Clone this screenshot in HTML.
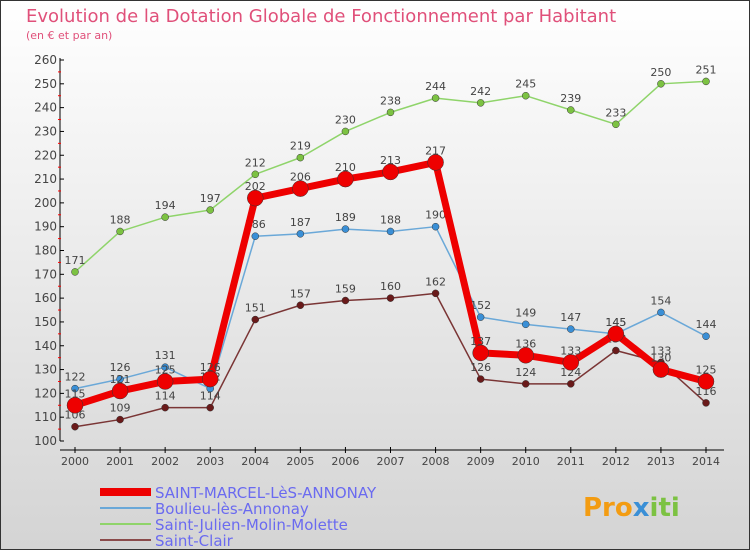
<!DOCTYPE html>
<html><head><meta charset="utf-8"><style>
body{margin:0;width:750px;height:550px;overflow:hidden}
svg{display:block;font-family:"DejaVu Sans","Liberation Sans",sans-serif}
</style></head><body>
<svg id="c" width="750" height="550">
<defs><linearGradient id="bg" x1="0" y1="0" x2="0" y2="1"><stop offset="0" stop-color="#ffffff"/><stop offset="1" stop-color="#d4d4d4"/></linearGradient></defs>
<rect x="0.5" y="0.5" width="749" height="549" fill="url(#bg)" stroke="#333"/>
<text x="26" y="22" font-size="18" fill="#e0507a">Evolution de la Dotation Globale de Fonctionnement par Habitant</text>
<text x="26" y="39" font-size="11" fill="#e0507a">(en € et par an)</text>
<g id="axes"></g><g id="series"></g><g id="legend"></g>
<text x="583" y="516" font-size="26" font-weight="bold" fill="#f39c12">Pro<tspan fill="#3a8fd6">x</tspan><tspan fill="#7cc242">iti</tspan></text>
</svg>
<script>
const years=[2000,2001,2002,2003,2004,2005,2006,2007,2008,2009,2010,2011,2012,2013,2014];
const yTicks=[100,110,120,130,140,150,160,170,180,190,200,210,220,230,240,250,260];
const seriesNames=["SAINT-MARCEL-LèS-ANNONAY","Boulieu-lès-Annonay","Saint-Julien-Molin-Molette","Saint-Clair"];
const saintMarcel=[115,121,125,126,202,206,210,213,217,137,136,133,145,130,125];
const boulieu=[122,126,131,122,186,187,189,188,190,152,149,147,145,154,144];
const saintJulien=[171,188,194,197,212,219,230,238,244,242,245,239,233,250,251];
const saintClair=[106,109,114,114,151,157,159,160,162,126,124,124,138,133,116];
const NS="http://www.w3.org/2000/svg";
const x=i=>75+i*(706-75)/(years.length-1);
const y=v=>441-(v-100)*(441-60)/160;
function mk(p,t,a){const e=document.createElementNS(NS,t);for(const k in a)e.setAttribute(k,a[k]);p.appendChild(e);return e;}
const ax=document.getElementById('axes');
let l=mk(ax,'line',{x1:60,y1:58,x2:60,y2:441,stroke:'#000'});


l=mk(ax,'line',{x1:60,y1:450,x2:724,y2:450,stroke:'#000'});


yTicks.forEach((v,i)=>{
  mk(ax,'line',{x1:60,y1:y(v),x2:64,y2:y(v),stroke:'#000'});
  if(i<yTicks.length-1)mk(ax,'line',{x1:58,y1:y(v+5),x2:61,y2:y(v+5),stroke:'#f00'});
  const t=mk(ax,'text',{x:57,y:y(v)+4,'font-size':12,'text-anchor':'end',fill:'#444'});
  t.textContent=v;
  
  
});
years.forEach((yr,i)=>{
  mk(ax,'line',{x1:x(i),y1:447,x2:x(i),y2:453,stroke:'#000'});
  const t=mk(ax,'text',{x:x(i),y:465,'font-size':11,'text-anchor':'middle',fill:'#444'});
  t.textContent=yr;
  
  
});
const sg=document.getElementById('series');
const defs=[
 [saintJulien,'#8fd46a','#7cc242',1.5,3.5,'saint-julien'],
 [boulieu,'#6aa8d8','#3a8fd6',1.5,3.5,'boulieu'],
 [saintClair,'#7a3535','#6a1a1a',1.5,3.5,'saint-clair'],
 [saintMarcel,'#ee0000','#ee0000',7,8,'saint-marcel']];
defs.forEach(([d,lc,pc,w,r,n])=>{
  const g=mk(sg,'g',{});
  
  
  const p=mk(g,'polyline',{points:d.map((v,i)=>x(i)+','+y(v)).join(' '),fill:'none',stroke:lc,'stroke-width':w,'stroke-linejoin':'round'});
  
  
  d.forEach((v,i)=>{
    const c=mk(g,'circle',{cx:x(i),cy:y(v),r:r,fill:pc,stroke:'#333','stroke-width':0.5});
    
    
    const t=mk(g,'text',{x:x(i),y:y(v)-8,'font-size':11,'text-anchor':'middle',fill:'#444'});
    t.textContent=v;
    
    
  });
});
const lg=document.getElementById('legend');
const lcol=['#ee0000','#6aa8d8','#8fd46a','#8a4a4a'],lw=[8,2,2,2];
seriesNames.forEach((n,i)=>{
  const yy=492+i*16;
  const g=mk(lg,'g',{});
  
  
  mk(g,'line',{x1:100,y1:yy,x2:151,y2:yy,stroke:lcol[i],'stroke-width':lw[i]});
  const t=mk(g,'text',{x:155,y:yy+6,'font-size':15,fill:'#6a6af0'});
  t.textContent=n;
});
</script>
</body></html>
